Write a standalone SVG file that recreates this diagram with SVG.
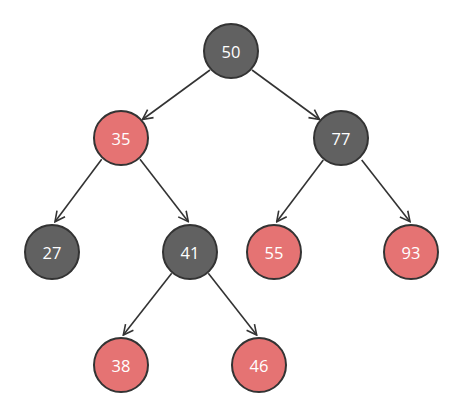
<svg xmlns="http://www.w3.org/2000/svg" width="464" height="417" viewBox="0 0 464 417">
<style>
.n circle{stroke:#333;stroke-width:2}
.b circle{fill:#616161}
.r circle{fill:#e57373}
.n text{fill:#fff;font-family:"Open Sans","Noto Sans",sans-serif;font-size:16.5px;text-anchor:middle;dominant-baseline:central}
.e line{stroke:#333;stroke-width:1.6;marker-end:url(#a)}
</style>
<defs>
<marker id="a" viewBox="0 0 12 12" refX="11" refY="6" markerWidth="12" markerHeight="12" markerUnits="userSpaceOnUse" orient="auto">
<path d="M1,1 L11,6 L1,11" fill="none" stroke="#333" stroke-width="1.6"/>
</marker>
</defs>
<rect width="464" height="417" fill="#fff"/>
<g id="edges" class="e">
<line x1="210" y1="70" x2="142.5" y2="119.5"/>
<line x1="252" y1="70" x2="319.5" y2="119.5"/>
<line x1="101.7" y1="159.3" x2="55" y2="221.7"/>
<line x1="140" y1="159.3" x2="188.3" y2="221.7"/>
<line x1="323.3" y1="160" x2="276.7" y2="221.7"/>
<line x1="361.7" y1="160" x2="410" y2="221.7"/>
<line x1="171.7" y1="273.3" x2="123.3" y2="335"/>
<line x1="208.3" y1="273.3" x2="256.7" y2="335"/>
</g>
<g id="n50" class="n b"><circle cx="231" cy="51" r="27"/><text x="231" y="51">50</text></g>
<g id="n35" class="n r"><circle cx="121" cy="138" r="27"/><text x="121" y="138">35</text></g>
<g id="n77" class="n b"><circle cx="341" cy="138" r="27"/><text x="341" y="138">77</text></g>
<g id="n27" class="n b"><circle cx="52" cy="252" r="27"/><text x="52" y="252">27</text></g>
<g id="n41" class="n b"><circle cx="190" cy="252" r="27"/><text x="190" y="252">41</text></g>
<g id="n55" class="n r"><circle cx="274" cy="252" r="27"/><text x="274" y="252">55</text></g>
<g id="n93" class="n r"><circle cx="411" cy="252" r="27"/><text x="411" y="252">93</text></g>
<g id="n38" class="n r"><circle cx="121" cy="365" r="27"/><text x="121" y="365">38</text></g>
<g id="n46" class="n r"><circle cx="259" cy="365" r="27"/><text x="259" y="365">46</text></g>
</svg>
